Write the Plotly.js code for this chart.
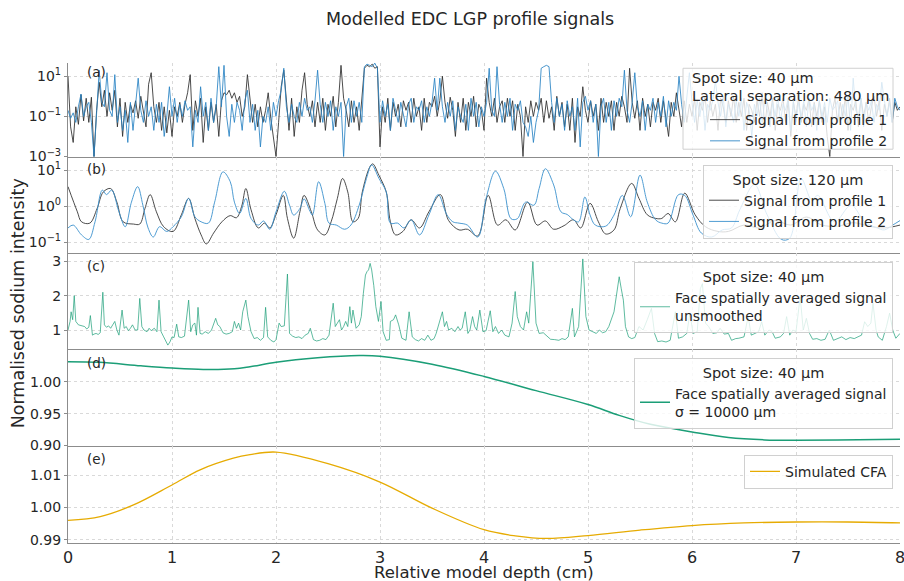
<!DOCTYPE html>
<html>
<head>
<meta charset="utf-8">
<script src="https://cdn.plot.ly/plotly-3.0.1.min.js"></script>
<style>html,body{margin:0;padding:0;background:#fff;}#chart{width:904px;height:581px;}</style>
</head>
<body>
<div id="chart"></div>
<script>
// ---------------- DATA ----------------
// Panel (a): spot size 40 µm, sampled every 0.025 cm from 0 to 8 cm
const depthStepA = 0.025;
const sigA1 = [
10,0.03,0.005,0.3,0.04,1.2,0.06,0.8, 0.05,0.9,0.001,0.2,5,0.3,2,0.1,
1.5,0.2,2,0.03,0.8,0.01,0.5,0.05, 0.4,0.15,0.6,0.08,1,0.2,0.03,4,
15,0.3,0.05,0.5,0.02,0.3,0.015,0.2, 0.01,0.3,0.1,0.5,0.05,0.4,1.5,12,
0.02,0.6,0.1,0.8,0.005,0.3,0.02,0.5, 0.05,0.4,0.01,0.6,1.5,1.2,2,0.8,
1.5,0.5,1,0.1,0.3,12,0.5,0.05, 0.4,0.03,0.3,0.05,0.2,1.5,0.08,0.01,
0.001,0.05,3,20,0.5,0.02,0.8,0.01, 0.3,0.05,2,15,0.4,0.1,0.6,0.03,
0.5,0.05,0.8,0.02,0.4,0.1,1,0.03, 0.5,35,0.8,0.2,0.03,0.6,0.05,0.3,
0.02,0.6,25,35,30,40,25,30, 0.003,0.3,0.05,0.8,0.02,0.5,0.1,0.4,
0.03,0.6,0.2,0.5,0.05,0.8,0.1,0.3, 0.02,0.8,0.05,0.5,0.3,1,0.1,0.6,
10,0.5,0.08,0.9,0.2,0.01,0.5,0.05, 0.8,0.02,0.5,0.1,1,0.03,0.4,0.2,
0.02,8,0.5,0.1,0.8,0.05,0.3,0.6, 0.05,0.8,0.1,0.6,0.02,0.4,0.1,0.001,
0.3,0.05,0.6,0.1,0.5,0.2,0.8,0.05, 0.6,0.08,0.3,0.02,1,0.1,0.5,0.03,
0.4,0.02,0.8,0.005,0.3,0.1,3,0.2, 0.05,0.6,0.1,0.4,0.02,0.8,0.05,0.5,
0.1,0.6,0.02,0.5,0.1,1,0.3,0.05, 25,0.5,0.08,0.6,0.02,0.8,0.1,0.4,
0.03,0.5,0.2,0.8,0.05,0.6,0.1,0.01, 0.5,0.1,1.5,0.2,0.03,0.6,0.05,0.4,
0.1,0.8,0.02,0.5,0.2,1,0.05,0.6, 0.1,0.4,0.02,0.8,0.3,0.05,0.6,0.1,
1,0.05,0.5,0.1,0.8,0.02,0.4,0.2, 0.05,0.6,0.1,1.5,0.03,0.5,0.1,0.8,
0.02,0.4,0.2,0.8,0.05,0.6,0.01,0.5, 0.1,1,0.05,0.4,0.2,0.8,0.03,0.5,
0.1,0.6,0.05,0.3,0.01,0.001,0.2,0.8, 0.05,0.5,0.1,1,0.02,0.4,0.2,0.6,
0.03,0.8,0.1,0.5,0.05,0.3,1,0.1, 0.6,0.02,0.4,0.1,0.8,0.05,0.5,0.2,
0.3];
const sigA2 = [
0.2,0.08,0.15,0.05,0.3,1.3,0.1,0.3, 0.5,0.05,0.001,0.1,20,0.5,0.3,15,
0.2,0.1,12,0.05,0.3,0.02,0.2,0.005, 0.5,0.02,0.3,8,0.2,0.05,0.6,0.1,
0.3,0.02,0.4,0.05,0.5,0.01,0.1,3, 0.1,0.8,0.05,0.4,0.1,0.6,0.2,0.3,
0.003,0.2,0.05,3,0.1,0.5,0.02,0.8, 0.05,0.3,30,0.3,35,0.1,0.01,0.4,
0.05,0.5,0.2,0.02,0.6,2,0.05,0.4, 0.02,0.2,0.003,0.1,0.05,0.3,0.02,0.5,
0.1,0.6,2,25,0.3,0.05,0.4,0.1, 0.05,0.5,0.1,0.8,0.2,0.3,0.05,0.6,
20,0.4,0.05,0.5,0.1,0.6,0.02,0.3, 0.1,0.5,0.001,0.3,0.8,0.05,0.6,0.1,
0.5,0.05,30,40,35,30,45,25, 0.05,0.6,0.1,0.4,0.02,0.8,0.2,0.05,
0.5,0.1,0.03,0.4,0.8,0.05,0.3,0.2, 0.6,0.05,0.3,0.1,0.5,8,0.2,8,
0.3,0.05,0.5,0.1,0.6,0.02,0.3,0.1, 0.05,0.4,0.02,0.8,0.1,0.5,0.03,0.3,
0.1,0.5,25,0.2,0.1,30,0.4,0.05, 0.5,0.1,0.8,0.02,0.4,0.2,0.6,0.05,
0.03,0.01,0.1,0.005,0.05,0.2,25,30, 35,30,0.5,0.05,0.8,0.1,0.4,0.02,
0.6,0.1,0.3,0.02,0.8,0.003,0.5,1, 0.2,0.6,0.05,0.4,0.001,0.3,0.8,0.05,
0.5,0.02,0.6,0.1,0.8,0.3,20,0.2, 0.05,0.5,15,0.3,0.1,0.6,0.02,0.4,
0.2,0.8,0.05,0.5,0.1,1,0.03,0.6, 0.1,0.5,0.2,10,0.4,0.05,0.8,15,
0.5,0.05,0.6,0.1,0.8,0.02,0.4,0.2, 0.6,6,0.5,0.1,1,0.03,0.4,0.2,
0.05,0.6,0.1,0.8,0.02,0.5,0.2,0.01, 0.4,0.1,0.8,0.05,0.6,0.2,0.03,0.5,
0.1,1,0.05,0.4,0.2,0.8,0.02,0.6, 0.05,0.5,0.1,0.6,0.03,0.8,0.2,0.4,
0.02,0.6,0.1,0.5,0.05,0.8,0.2,0.3, 0.6,0.05,0.4,0.1,1,0.02,8,0.2,
0.1,0.8,0.03,0.5,0.2,0.6,0.05,0.4, 0.2,5,0.6,0.1,0.5,0.05,0.8,0.3,
0.2];

// Panel (b): spot size 120 µm (depth, value) read at turning points
const depthB1 = [0,0.09,0.13,0.21,0.28,0.34,0.41,0.47,0.53,0.63,0.69,0.74,0.79,0.85,0.92,1.01,1.09,1.16,1.22,1.28,1.33,1.40,1.48,1.56,1.62,1.67,1.71,1.76,1.83,1.89,1.94,2.0,2.07,2.11,2.17,2.23,2.27,2.34,2.40,2.47,2.53,2.59,2.64,2.69,2.74,2.79,2.83,2.9,2.93,2.99,3.06,3.1,3.15,3.22,3.30,3.38,3.47,3.58,3.66,3.76,3.84,3.94,4.04,4.13,4.21,4.3,4.42,4.51,4.59,4.67,4.77,4.86,4.93,5.02,5.1,5.17,5.25,5.31,5.42,5.49,5.57,5.65,5.71,5.77,5.84,5.93,6.03,6.13,6.25,6.35,6.5,6.65,6.8,6.95,7.1,7.25,7.4,7.55,7.7,7.85,8.0];
const sigB1 = [3.5,0.7,0.37,0.34,0.87,2.5,3.1,1.3,0.37,0.32,0.32,0.87,2.1,0.7,0.27,0.2,0.58,1.65,0.46,0.16,0.09,0.18,0.37,0.55,0.48,1.0,3.1,0.8,0.25,0.34,0.25,0.58,2.0,0.46,0.13,0.7,2.0,0.7,0.22,0.16,0.37,1.65,5.9,2.5,0.37,0.46,2.5,12,15,7.2,2.5,0.37,0.16,0.2,0.42,0.25,0.7,2.1,0.4,0.22,0.23,0.15,2.0,0.3,0.42,0.22,1.3,0.3,0.39,0.23,0.29,0.42,0.25,1.2,0.37,0.17,0.22,0.87,4.3,1.65,0.58,0.46,0.46,0.63,0.37,2.3,0.58,0.27,0.2,0.2,0.3,0.25,0.4,0.3,0.5,0.3,0.28,0.35,0.28,0.25,0.3];
const depthB2 = [0,0.05,0.13,0.2,0.26,0.33,0.37,0.42,0.49,0.55,0.61,0.67,0.72,0.77,0.82,0.88,0.95,1.01,1.09,1.16,1.22,1.28,1.35,1.41,1.49,1.56,1.6,1.65,1.71,1.76,1.83,1.88,1.94,2.0,2.08,2.13,2.17,2.23,2.27,2.32,2.35,2.41,2.47,2.51,2.58,2.66,2.72,2.8,2.87,2.92,2.99,3.06,3.1,3.17,3.23,3.30,3.38,3.47,3.56,3.64,3.7,3.76,3.84,3.94,4.02,4.11,4.19,4.26,4.32,4.4,4.48,4.53,4.59,4.67,4.74,4.8,4.86,4.91,4.97,5.02,5.07,5.17,5.25,5.33,5.41,5.5,5.57,5.65,5.71,5.77,5.87,5.93,6.01,6.09,6.19,6.29,6.38,6.46,6.6,6.72,6.86,6.94,7.05,7.15,7.21,7.37,7.53,7.66,7.78,7.85,7.93,8.0];
const sigB2 = [0.25,0.3,0.16,0.12,0.37,2.8,2.1,2.8,0.7,0.27,1.3,3.5,1.07,0.25,0.14,0.27,0.2,0.27,0.51,1.65,0.51,0.37,0.34,1.3,9,4.8,1.3,0.63,1.65,0.46,0.3,0.39,0.23,0.7,2.6,1.07,0.57,0.87,1.6,0.8,0.57,4.8,1.2,0.34,0.3,0.23,0.3,1.07,5.9,14,5.9,2.5,0.34,0.34,0.25,0.42,0.16,0.57,2.1,0.6,0.37,0.34,0.3,0.14,1.65,9.4,3.1,0.45,0.45,1.3,1.07,3.1,11,3.9,0.7,0.59,0.42,0.37,1.8,0.57,0.3,0.28,0.57,2.0,0.51,7.3,1.3,0.42,0.34,0.34,2.1,2.0,0.57,0.18,0.14,0.22,0.25,0.8,4.0,0.6,0.12,0.13,5.9,1.5,2.0,0.37,1.07,0.37,0.25,0.22,0.3,0.4];

// Panel (c): face spatially averaged signal, unsmoothed (depth, value)
const depthC = [0,0.02,0.03,0.045,0.06,0.075,0.1,0.13,0.16,0.18,0.2,0.215,0.235,0.25,0.27,0.29,0.31,0.335,0.35,0.37,0.39,0.41,0.43,0.45,0.47,0.49,0.52,0.54,0.56,0.58,0.6,0.62,0.645,0.67,0.69,0.71,0.73,0.76,0.78,0.8,0.83,0.855,0.875,0.895,0.92,0.94,0.96,0.98,1.0,1.02,1.045,1.065,1.09,1.12,1.16,1.18,1.2,1.22,1.235,1.25,1.27,1.29,1.32,1.35,1.38,1.42,1.44,1.46,1.49,1.52,1.55,1.58,1.6,1.62,1.64,1.66,1.68,1.71,1.73,1.76,1.79,1.82,1.85,1.88,1.9,1.92,1.95,1.98,2.0,2.03,2.05,2.08,2.11,2.13,2.16,2.19,2.22,2.25,2.28,2.31,2.33,2.36,2.39,2.42,2.45,2.48,2.51,2.55,2.57,2.59,2.61,2.63,2.65,2.67,2.69,2.71,2.725,2.74,2.77,2.8,2.82,2.84,2.86,2.875,2.89,2.905,2.92,2.94,2.96,2.985,3.01,3.03,3.06,3.09,3.1,3.13,3.15,3.18,3.21,3.25,3.28,3.31,3.34,3.37,3.4,3.43,3.46,3.49,3.52,3.54,3.57,3.6,3.62,3.64,3.66,3.69,3.72,3.75,3.77,3.79,3.82,3.845,3.865,3.89,3.91,3.93,3.96,3.99,4.02,4.06,4.085,4.11,4.14,4.17,4.2,4.24,4.27,4.3,4.32,4.35,4.38,4.41,4.43,4.47,4.5,4.53,4.57,4.6,4.64,4.68,4.72,4.75,4.78,4.81,4.85,4.87,4.91,4.95,4.98,5.01,5.04,5.08,5.11,5.14,5.17,5.2,5.25,5.28,5.3,5.32,5.34,5.36,5.39,5.42,5.45,5.49,5.53,5.57,5.61,5.64,5.67,5.71,5.75,5.79,5.84,5.87,5.91,5.95,5.98,6.01,6.05,6.08,6.1,6.13,6.16,6.2,6.24,6.27,6.31,6.35,6.38,6.42,6.45,6.5,6.54,6.57,6.6,6.64,6.67,6.7,6.74,6.77,6.8,6.85,6.88,6.91,6.94,6.97,7.0,7.04,7.07,7.1,7.13,7.16,7.2,7.24,7.28,7.32,7.36,7.4,7.44,7.48,7.52,7.56,7.6,7.63,7.66,7.69,7.72,7.74,7.77,7.79,7.83,7.87,7.9,7.93,7.96,8.0];
const sigC = [1.0,1.25,1.53,1.3,2.0,1.25,1.15,1.12,1.1,1.03,1.08,1.42,0.85,0.88,0.9,0.87,0.92,2.1,1.15,1.08,1.12,1.05,1.15,1.25,1.0,0.85,1.58,1.05,1.1,0.98,1.05,1.15,1.0,1.0,1.92,1.1,1.0,0.95,1.05,0.98,1.05,0.95,1.87,0.95,0.8,0.7,0.56,0.65,0.8,0.78,1.17,0.8,0.78,0.82,1.87,0.95,1.15,1.2,0.85,1.66,0.9,0.88,0.95,0.9,1.0,1.34,1.15,1.1,0.92,0.88,0.9,0.95,1.25,1.05,1.2,1.0,1.53,1.87,1.39,0.95,0.75,0.78,0.7,0.78,1.66,0.8,0.7,0.65,0.72,1.2,1.1,1.12,2.63,0.9,0.82,0.78,0.8,0.75,0.85,0.9,1.05,0.72,0.68,0.7,0.75,0.72,0.85,1.78,1.1,1.2,1.3,1.0,1.1,1.25,1.1,1.68,1.2,1.58,1.05,1.15,1.39,2.07,2.6,2.7,2.75,2.94,2.75,2.3,1.68,1.25,1.83,0.95,0.7,0.72,1.25,1.3,1.44,1.15,0.76,0.7,1.53,0.8,0.72,0.68,0.75,0.7,0.85,0.7,0.75,0.9,1.2,1.53,1.1,1.25,1.0,1.05,0.95,1.1,1.0,1.05,1.53,0.9,1.0,1.39,1.1,1.0,1.58,0.95,0.98,1.56,0.95,1.1,0.9,1.0,0.85,0.8,1.2,2.12,1.39,1.1,1.0,1.53,1.2,2.99,1.2,0.9,0.92,0.85,0.73,0.72,0.7,0.75,0.72,0.8,1.63,0.8,1.1,3.07,1.39,1.0,0.95,0.9,1.0,0.92,0.95,1.1,1.53,2.2,2.55,2.2,1.87,1.1,0.8,0.75,0.78,1.1,1.0,1.3,1.63,0.9,0.66,0.68,0.65,0.7,1.53,0.76,0.8,0.9,1.49,0.9,0.95,2.2,2.35,1.2,1.1,0.9,0.92,1.05,0.88,0.9,0.7,0.75,0.76,0.8,1.39,0.85,0.9,0.95,1.24,0.85,1.0,0.95,0.76,0.8,0.9,1.39,0.85,1.0,0.95,1.97,1.0,1.34,0.9,0.73,0.75,0.7,0.73,1.0,0.7,0.76,0.8,0.72,0.78,0.75,0.82,0.85,1.24,1.1,1.2,1.78,1.0,0.8,0.7,1.1,1.49,1.0,0.76,0.9];

// Panel (d): face spatially averaged signal, sigma = 10000 µm
const depthD = [0,0.3,0.7,1.0,1.3,1.6,1.75,2.0,2.4,2.8,3.0,3.5,4.0,4.5,5.0,5.3,5.6,6.0,6.35,6.7,7.0,7.4,8.0];
const sigD = [1.032,1.031,1.0255,1.022,1.0198,1.0208,1.024,1.031,1.038,1.0416,1.0406,1.028,1.0088,0.9864,0.9645,0.9474,0.9333,0.9213,0.9125,0.9088,0.9083,0.9088,0.9098];

// Panel (e): simulated CFA
const depthE = [0,0.31,0.63,1.0,1.27,1.59,1.75,2.0,2.5,3.0,3.5,4.0,4.3,4.6,5.0,5.5,6.0,6.5,7.0,7.5,8.0];
const sigE = [0.996,0.9972,1.0008,1.007,1.0117,1.0153,1.0164,1.0172,1.0136,1.0079,0.9998,0.9931,0.9912,0.9904,0.9913,0.993,0.9944,0.9952,0.9955,0.9955,0.9952];

// Labels
const panelLabels = ['(a)','(b)','(c)','(d)','(e)'];
const legendATitleLines = ['Spot size: 40 µm','Lateral separation: 480 µm'];
const legendTitles = ['', 'Spot size: 120 µm','Spot size: 40 µm','Spot size: 40 µm',''];
const seriesNames = ['Signal from profile 1','Signal from profile 2','Face spatially averaged signal<br>unsmoothed','Face spatially averaged signal<br>σ = 10000 µm','Simulated CFA'];
const xTickVals = [0,1,2,3,4,5,6,7,8];
const logTickValsA = [0.001,0.1,10], logTickTextA = ['10<sup>−3</sup>','10<sup>−1</sup>','10<sup>1</sup>'];
const logTickValsB = [0.1,1,10], logTickTextB = ['10<sup>−1</sup>','10<sup>0</sup>','10<sup>1</sup>'];

// ---------------- BUILD ----------------
const depthA = sigA1.map((_, i) => +(i * depthStepA).toFixed(3));
const FONT = 'DejaVu Sans, sans-serif';
const TXT = '#262626';
const gray = 'rgba(45,45,45,0.85)';
const blue = 'rgba(40,130,195,0.85)';

const traces = [
  {x: depthA, y: sigA1, xaxis:'x', yaxis:'y', type:'scatter', mode:'lines', name: seriesNames[0], legend:'legend', line:{color:gray, width:1}},
  {x: depthA, y: sigA2, xaxis:'x', yaxis:'y', type:'scatter', mode:'lines', name: seriesNames[1], legend:'legend', line:{color:blue, width:1}},
  {x: depthB1, y: sigB1, xaxis:'x2', yaxis:'y2', type:'scatter', mode:'lines', name: seriesNames[0], legend:'legend2', line:{color:'rgba(45,45,45,0.85)', width:1, shape:'spline', smoothing:1}},
  {x: depthB2, y: sigB2, xaxis:'x2', yaxis:'y2', type:'scatter', mode:'lines', name: seriesNames[1], legend:'legend2', line:{color:'rgba(60,145,205,0.9)', width:1, shape:'spline', smoothing:1}},
  {x: depthC, y: sigC, xaxis:'x3', yaxis:'y3', type:'scatter', mode:'lines', name: seriesNames[2], legend:'legend3', line:{color:'rgba(27,158,119,0.7)', width:1}},
  {x: depthD, y: sigD, xaxis:'x4', yaxis:'y4', type:'scatter', mode:'lines', name: seriesNames[3], legend:'legend4', line:{color:'#1b9e77', width:1.5, shape:'spline', smoothing:1}},
  {x: depthE, y: sigE, xaxis:'x5', yaxis:'y5', type:'scatter', mode:'lines', name: seriesNames[4], legend:'legend5', line:{color:'#e6ab02', width:1.3, shape:'spline', smoothing:1}}
];

const domains = [[0.8044,1],[0.604,0.8044],[0.4037,0.604],[0.2025,0.4037],[0,0.2025]];
const SPINE = '#8c8c8c';
const GRID = '#d9d9d9';

function xAxis(i) {
  const ax = {domain:[0,1], anchor: i===1 ? 'y' : 'y'+i, range:[0,8], tickmode:'array', tickvals:xTickVals,
    showgrid:true, gridcolor:GRID, griddash:'dot', gridwidth:1, zeroline:false,
    showline:true, linecolor:SPINE, linewidth:1.2, ticks:'', showticklabels: i===5,
    ticklabeloverflow:'allow', tickfont:{family:FONT, size:16, color:TXT}};
  if (i > 1) ax.matches = 'x';
  return ax;
}
function yAxis(i, extra) {
  return Object.assign({domain: domains[i-1], anchor: i===1 ? 'x' : 'x'+i,
    showgrid:true, gridcolor:GRID, griddash:'dot', gridwidth:1, zeroline:false,
    showline:true, linecolor:SPINE, linewidth:1.2, ticks:'outside', ticklen:3, tickcolor:SPINE,
    tickfont:{family:FONT, size:14, color:TXT}}, extra);
}

const legendBase = {bgcolor:'rgba(255,255,255,0.8)', bordercolor:'#d0d0d0', borderwidth:1,
  xref:'paper', yref:'paper', xanchor:'right', yanchor:'top', x:0.9916, itemwidth:30,
  font:{family:FONT, size:14, color:TXT}, tracegroupgap:0};
function legend(y, title, side) {
  const l = Object.assign({}, legendBase, {y: y});
  if (title) l.title = {text:title, side: side, font:{family:FONT, size:14.5, color:TXT}};
  return l;
}

const panelLabelY = [0.9807, 0.779, 0.577, 0.376, 0.175];
const annotations = panelLabels.map((t, i) => ({text:t, xref:'paper', yref:'paper', x:0.021, y:panelLabelY[i],
  xanchor:'left', yanchor:'middle', showarrow:false, font:{family:FONT, size:13.5, color:TXT}}));
// Legend (a) title lines, drawn inside a legend-style box
annotations.push({text:legendATitleLines[0], xref:'paper', yref:'paper', x:0.7476, y:0.9681,
  xanchor:'left', yanchor:'middle', showarrow:false, font:{family:FONT, size:14.5, color:TXT}});
annotations.push({text:legendATitleLines[1], xref:'paper', yref:'paper', x:0.7476, y:0.931,
  xanchor:'left', yanchor:'middle', showarrow:false, font:{family:FONT, size:14.5, color:TXT}});
annotations.push({text:'Normalised sodium intensity', xref:'paper', yref:'paper', x:-0.0597, y:0.5,
  textangle:-90, xanchor:'center', yanchor:'middle', showarrow:false, font:{family:FONT, size:17.5, color:TXT}});
annotations.push({text:'Relative model depth (cm)', xref:'paper', yref:'paper', x:0.5, y:-0.0605,
  xanchor:'center', yanchor:'middle', showarrow:false, font:{family:FONT, size:16.5, color:TXT}});

const legendA = Object.assign({}, legendBase, {y:0.9145, bgcolor:'rgba(0,0,0,0)', borderwidth:0});

const layout = {
  width:904, height:581,
  margin:{l:68, r:4, t:63, b:38},
  paper_bgcolor:'#ffffff', plot_bgcolor:'#ffffff',
  font:{family:FONT, color:TXT},
  title:{text:'Modelled EDC LGP profile signals', x:0.52, xref:'container', xanchor:'center',
    y:0.967, yref:'container', yanchor:'middle', font:{family:FONT, size:17.5, color:TXT}},
  showlegend:true,
  xaxis: xAxis(1), xaxis2: xAxis(2), xaxis3: xAxis(3), xaxis4: xAxis(4), xaxis5: xAxis(5),
  yaxis: yAxis(1, {type:'log', range:[-3.02,1.66], tickvals:logTickValsA, ticktext:logTickTextA}),
  yaxis2: yAxis(2, {type:'log', range:[-1.30,1.37], tickvals:logTickValsB, ticktext:logTickTextB}),
  yaxis3: yAxis(3, {range:[0.44,3.24], tickvals:[1,2,3]}),
  yaxis4: yAxis(4, {range:[0.8995,1.0516], tickvals:[0.9,0.95,1.0], ticktext:['0.90','0.95','1.00']}),
  yaxis5: yAxis(5, {range:[0.98898,1.01916], tickvals:[0.99,1.0,1.01], ticktext:['0.99','1.00','1.01']}),
  legend: legendA,
  legend2: legend(0.788, legendTitles[1], 'top center'),
  legend3: legend(0.585, legendTitles[2], 'top center'),
  legend4: legend(0.386, legendTitles[3], 'top center'),
  legend5: legend(0.184, legendTitles[4], 'top'),
  shapes: [{type:'rect', xref:'paper', yref:'paper', x0:0.7392, x1:0.9916, y0:0.8204, y1:0.989,
    fillcolor:'rgba(255,255,255,0.8)', line:{color:'#d0d0d0', width:1}, layer:'above'}],
  annotations: annotations
};

Plotly.newPlot('chart', traces, layout, {displayModeBar:false, responsive:false});
</script>
</body>
</html>
